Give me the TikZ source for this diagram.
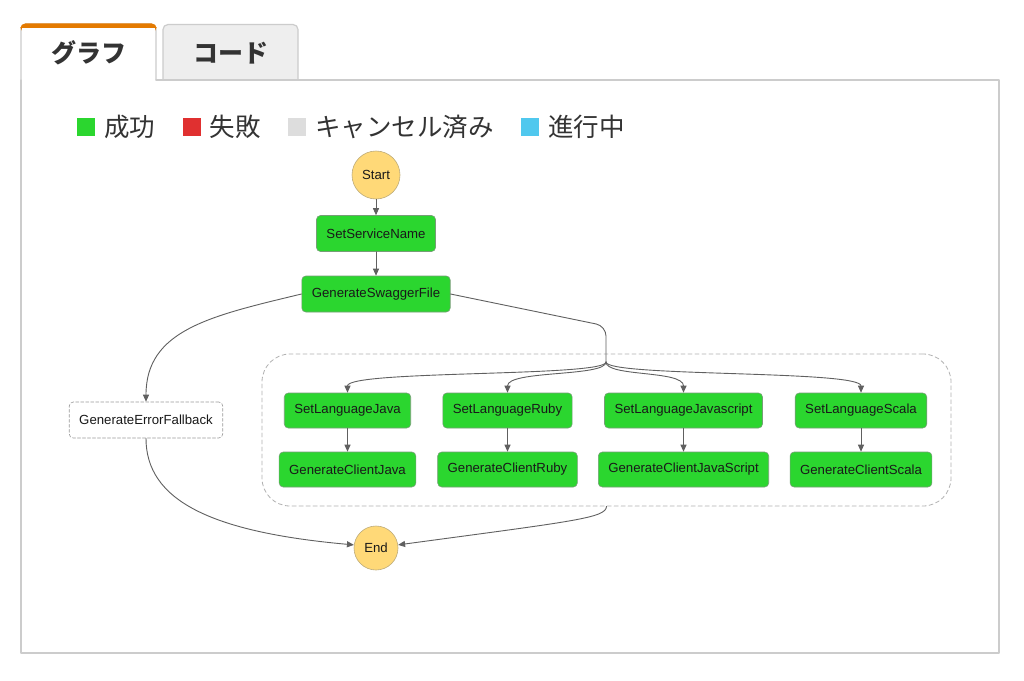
\documentclass[tikz,border=0pt]{standalone}
\usepackage{fontspec}
\setmainfont{Liberation Sans}
\newfontfamily\jpfont{Noto Sans CJK JP}
\usetikzlibrary{arrows.meta,positioning}

\definecolor{okgreen}{RGB}{43,214,47}
\definecolor{failred}{RGB}{224,48,48}
\definecolor{cancelgray}{RGB}{221,221,221}
\definecolor{runblue}{RGB}{80,200,238}
\definecolor{taskedge}{RGB}{118,158,118}
\definecolor{termfill}{RGB}{255,217,120}
\definecolor{termedge}{RGB}{190,172,122}
\definecolor{linkgray}{RGB}{96,96,96}
\definecolor{panelgray}{RGB}{204,204,204}
\definecolor{tabfill}{RGB}{238,238,238}
\definecolor{tabaccent}{RGB}{228,122,0}
\definecolor{labelgray}{RGB}{51,51,51}

\tikzset{
  task/.style={draw=taskedge, fill=okgreen, rounded corners=4pt, line width=0.6pt,
    inner xsep=10pt, inner ysep=0pt, minimum height=36pt, text=black!90,
    font=\fontsize{13.2}{16}\selectfont},
  fallback/.style={task, fill=white, draw=black!40, dash pattern=on 3pt off 2pt},
  terminal/.style={circle, draw=termedge, fill=termfill, line width=0.6pt, inner sep=0pt,
    text=black!90, font=\fontsize{13.2}{16}\selectfont},
  groupbox/.style={draw=black!30, dash pattern=on 4pt off 3pt, rounded corners=28pt,
    line width=0.8pt, inner sep=0pt},
  link/.style={draw=linkgray, line width=0.9pt},
  flow/.style={link, -{Triangle[length=7pt,width=6pt]}},
  swatch/.style={minimum size=18pt, inner sep=0pt},
  legendtext/.style={inner sep=0pt, text=labelgray, font=\jpfont\fontsize{25.5}{30}\selectfont},
  tablabel/.style={inner sep=0pt, text=labelgray, font=\jpfont\bfseries\fontsize{25}{30}\selectfont}
}

\begin{document}
\begin{tikzpicture}[x=1pt, y=-1pt, line cap=round, line join=round]
  \useasboundingbox[fill=white] (0,0) rectangle (1024,680);

  % tabs and panel
  \draw[panelgray, fill=tabfill, line width=1.2pt, rounded corners=5pt]
    (163,80) -- (163,24.5) -- (298,24.5) -- (298,80);
  \fill[white, rounded corners=5pt] (21,80) -- (21,24) -- (156,24) -- (156,80) -- cycle;
  \draw[panelgray, line width=1.2pt, rounded corners=5pt] (21,80) -- (21,24) -- (156,24) -- (156,80);
  \draw[panelgray, line width=1.2pt] (156,80) -- (999,80) -- (999,653) -- (21,653) -- (21,80);
  \fill[tabaccent, rounded corners=5pt] (20.4,32) -- (20.4,23.4) -- (156.6,23.4) -- (156.6,32) -- cycle;
  \fill[white] (21.6,28) rectangle (155.4,79.4);
  \node[tablabel] (graphtab) at (88.5,53) {グラフ};
  \node[tablabel] (codetab) at (230.5,53) {コード};

  % legend
  \foreach \key/\shade/\word/\x in {ok/okgreen/成功/86, fail/failred/失敗/191.5,
      cancel/cancelgray/キャンセル済み/297, run/runblue/進行中/530}
  {
    \node[swatch, fill=\shade] (sw\key) at (\x,127) {};
    \node[legendtext, right=9pt of sw\key] (lg\key) {\word};
  }

  % states
  \node[terminal, minimum size=48pt] (start) at (376,175) {Start};
  \node[task] (setname) at (376,233.5) {SetServiceName};
  \node[task] (swagger) at (376,294) {GenerateSwaggerFile};
  \node[fallback] (fallback) at (146,420) {GenerateErrorFallback};
  \node[groupbox, minimum width=689pt, minimum height=152pt] (langs) at (606.5,430) {};
  \node[terminal, minimum size=44pt] (end) at (376,548) {End};
  \coordinate (fork) at (606,362);

  \draw[flow] (start) -- (setname);
  \draw[flow] (setname) -- (swagger);
  \draw[flow] (swagger.west) .. controls (210,316) and (146,330) .. (fallback.north);
  \draw[link, rounded corners=10pt] (swagger.east) -- (606,326) -- (fork);

  \foreach \lang/\langset/\client/\x in {java/SetLanguageJava/GenerateClientJava/347.5,
      ruby/SetLanguageRuby/GenerateClientRuby/507.5,
      js/SetLanguageJavascript/GenerateClientJavaScript/683.5,
      scala/SetLanguageScala/GenerateClientScala/861}
  {
    \node[task, minimum height=35pt] (set\lang) at (\x,410.5) {\langset};
    \node[task, minimum height=35pt] (gen\lang) at (\x,469.5) {\client};
    \draw[flow] (fork) .. controls (606,377) and (\x,370) .. (set\lang.north);
    \draw[flow] (set\lang) -- (gen\lang);
  }

  \draw[flow] (fallback.south) .. controls (146,500) and (210,532) .. (end.172);
  \draw[flow] (langs.south) .. controls (606,518) and (575,521) .. (end.8);
\end{tikzpicture}
\end{document}
